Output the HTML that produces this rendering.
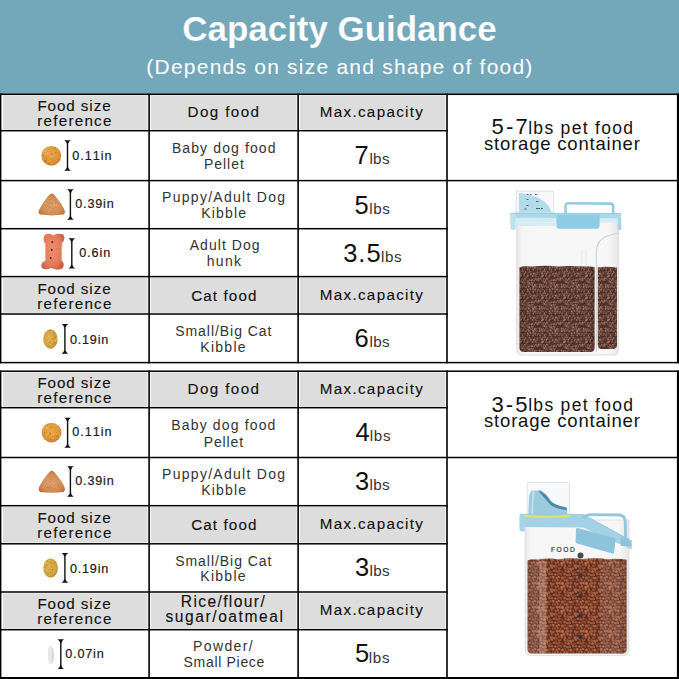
<!DOCTYPE html>
<html><head><meta charset="utf-8"><style>
html,body{margin:0;padding:0;}
body{width:679px;height:679px;overflow:hidden;background:#fff;position:relative;font-family:"Liberation Sans",sans-serif;}
.abs{position:absolute;left:0;top:0;}
.t{position:absolute;white-space:nowrap;font-kerning:none;font-variant-ligatures:none;}
#hdr{position:absolute;left:0;top:0;width:679px;height:94px;background:#73a8bb;}
</style></head><body>
<div id="hdr"></div>
<svg class="abs" width="679" height="679" viewBox="0 0 679 679"><rect x="3.0" y="95.6" width="144.4" height="33.9" fill="#dddddd"/><rect x="150.8" y="95.6" width="145.6" height="33.9" fill="#dddddd"/><rect x="299.8" y="95.6" width="145.6" height="33.9" fill="#dddddd"/><rect x="3.0" y="277.9" width="144.4" height="34.9" fill="#dddddd"/><rect x="150.8" y="277.9" width="145.6" height="34.9" fill="#dddddd"/><rect x="299.8" y="277.9" width="145.6" height="34.9" fill="#dddddd"/><rect x="3.0" y="372.5" width="144.4" height="34.0" fill="#dddddd"/><rect x="150.8" y="372.5" width="145.6" height="34.0" fill="#dddddd"/><rect x="299.8" y="372.5" width="145.6" height="34.0" fill="#dddddd"/><rect x="3.0" y="507.0" width="144.4" height="35.6" fill="#dddddd"/><rect x="150.8" y="507.0" width="145.6" height="35.6" fill="#dddddd"/><rect x="299.8" y="507.0" width="145.6" height="35.6" fill="#dddddd"/><rect x="3.0" y="593.3" width="144.4" height="35.2" fill="#dddddd"/><rect x="150.8" y="593.3" width="145.6" height="35.2" fill="#dddddd"/><rect x="299.8" y="593.3" width="145.6" height="35.2" fill="#dddddd"/><rect x="0" y="93.55" width="679" height="1.5" fill="#000"/><rect x="0" y="129.95" width="447.8" height="1.5" fill="#000"/><rect x="0" y="179.85" width="679" height="1.5" fill="#000"/><rect x="0" y="227.95" width="447.8" height="1.5" fill="#000"/><rect x="0" y="275.85" width="447.8" height="1.5" fill="#000"/><rect x="0" y="313.25" width="447.8" height="1.5" fill="#000"/><rect x="0" y="361.85" width="679" height="1.5" fill="#000"/><rect x="0" y="370.45" width="679" height="1.5" fill="#000"/><rect x="0" y="406.95" width="447.8" height="1.5" fill="#000"/><rect x="0" y="456.75" width="679" height="1.5" fill="#000"/><rect x="0" y="504.95" width="447.8" height="1.5" fill="#000"/><rect x="0" y="543.05" width="447.8" height="1.5" fill="#000"/><rect x="0" y="591.25" width="447.8" height="1.5" fill="#000"/><rect x="0" y="628.95" width="447.8" height="1.5" fill="#000"/><rect x="0" y="677.00" width="679" height="2.0" fill="#000"/><rect x="-0.20" y="93.6" width="1.6" height="269.70000000000005" fill="#000"/><rect x="-0.20" y="370.5" width="1.6" height="308.1" fill="#000"/><rect x="148.30" y="93.6" width="1.6" height="269.70000000000005" fill="#000"/><rect x="148.30" y="370.5" width="1.6" height="308.1" fill="#000"/><rect x="297.30" y="93.6" width="1.6" height="269.70000000000005" fill="#000"/><rect x="297.30" y="370.5" width="1.6" height="308.1" fill="#000"/><rect x="446.20" y="93.6" width="1.6" height="269.70000000000005" fill="#000"/><rect x="446.20" y="370.5" width="1.6" height="308.1" fill="#000"/><rect x="676.90" y="93.6" width="2.2" height="269.70000000000005" fill="#000"/><rect x="676.90" y="370.5" width="2.2" height="308.5" fill="#000"/></svg>
<svg class="abs" width="679" height="679" viewBox="0 0 679 679"><defs>
<radialGradient id="gp" cx="45%" cy="40%" r="62%"><stop offset="0" stop-color="#eaa84a"/><stop offset="0.7" stop-color="#dc963a"/><stop offset="1" stop-color="#c88028"/></radialGradient>
<radialGradient id="gt" cx="50%" cy="55%" r="60%"><stop offset="0" stop-color="#dca070"/><stop offset="0.7" stop-color="#d08a50"/><stop offset="1" stop-color="#b86c34"/></radialGradient>
<radialGradient id="gb" cx="45%" cy="45%" r="60%"><stop offset="0" stop-color="#ee8e70"/><stop offset="0.75" stop-color="#e27a5a"/><stop offset="1" stop-color="#c86444"/></radialGradient>
<linearGradient id="gw" x1="0" x2="1" y1="0" y2="0"><stop offset="0" stop-color="#e4e4e4"/><stop offset="0.5" stop-color="#eaeaea"/><stop offset="1" stop-color="#c8c8c8"/></linearGradient>
<radialGradient id="go" cx="45%" cy="45%" r="60%"><stop offset="0" stop-color="#e0b44c"/><stop offset="0.75" stop-color="#d0a03e"/><stop offset="1" stop-color="#aa8228"/></radialGradient>
<pattern id="sp" width="4" height="4" patternUnits="userSpaceOnUse"><rect width="4" height="4" fill="none"/><circle cx="1" cy="1" r="0.6" fill="#f8dc90"/><circle cx="3" cy="3" r="0.5" fill="#a86a20"/></pattern>
<pattern id="st" width="5" height="5" patternUnits="userSpaceOnUse"><path d="M0 5 L5 0" stroke="#e6b07a" stroke-width="0.6"/><circle cx="2" cy="2" r="0.5" fill="#a0602a"/></pattern>
</defs><path d="M64.20 140.20 L70.80 140.20 Q68.70 141.40 68.20 143.80 L68.20 167.20 Q68.70 169.60 70.80 170.80 L64.20 170.80 Q66.30 169.60 66.80 167.20 L66.80 143.80 Q66.30 141.40 64.20 140.20Z" fill="#111"/><path d="M67.10 189.30 L73.70 189.30 Q71.60 190.50 71.10 192.90 L71.10 216.20 Q71.60 218.60 73.70 219.80 L67.10 219.80 Q69.20 218.60 69.70 216.20 L69.70 192.90 Q69.20 190.50 67.10 189.30Z" fill="#111"/><path d="M68.50 238.20 L75.10 238.20 Q73.00 239.40 72.50 241.80 L72.50 264.90 Q73.00 267.30 75.10 268.50 L68.50 268.50 Q70.60 267.30 71.10 264.90 L71.10 241.80 Q70.60 239.40 68.50 238.20Z" fill="#111"/><path d="M61.60 324.00 L68.20 324.00 Q66.10 325.20 65.60 327.60 L65.60 350.20 Q66.10 352.60 68.20 353.80 L61.60 353.80 Q63.70 352.60 64.20 350.20 L64.20 327.60 Q63.70 325.20 61.60 324.00Z" fill="#111"/><path d="M64.30 417.70 L70.90 417.70 Q68.80 418.90 68.30 421.30 L68.30 444.20 Q68.80 446.60 70.90 447.80 L64.30 447.80 Q66.40 446.60 66.90 444.20 L66.90 421.30 Q66.40 418.90 64.30 417.70Z" fill="#111"/><path d="M67.10 466.30 L73.70 466.30 Q71.60 467.50 71.10 469.90 L71.10 493.20 Q71.60 495.60 73.70 496.80 L67.10 496.80 Q69.20 495.60 69.70 493.20 L69.70 469.90 Q69.20 467.50 67.10 466.30Z" fill="#111"/><path d="M61.60 553.00 L68.20 553.00 Q66.10 554.20 65.60 556.60 L65.60 579.20 Q66.10 581.60 68.20 582.80 L61.60 582.80 Q63.70 581.60 64.20 579.20 L64.20 556.60 Q63.70 554.20 61.60 553.00Z" fill="#111"/><path d="M57.50 639.30 L64.10 639.30 Q62.00 640.50 61.50 642.90 L61.50 665.50 Q62.00 667.90 64.10 669.10 L57.50 669.10 Q59.60 667.90 60.10 665.50 L60.10 642.90 Q59.60 640.50 57.50 639.30Z" fill="#111"/><circle cx="51.3" cy="155.8" r="9.9" fill="url(#gp)"/><circle cx="46.11" cy="156.68" r="0.52" fill="#b8701e"/><circle cx="50.79" cy="157.40" r="0.62" fill="#e8b050"/><circle cx="46.54" cy="150.54" r="0.80" fill="#e8b050"/><circle cx="52.11" cy="156.78" r="0.53" fill="#f0c060"/><circle cx="45.99" cy="148.90" r="0.77" fill="#e8b050"/><circle cx="56.08" cy="159.19" r="0.38" fill="#b8701e"/><circle cx="57.71" cy="151.23" r="0.62" fill="#e8b050"/><circle cx="49.22" cy="161.76" r="0.55" fill="#f0c060"/><circle cx="53.81" cy="151.86" r="0.58" fill="#e8b050"/><circle cx="52.77" cy="156.48" r="0.53" fill="#f0c060"/><circle cx="59.30" cy="159.40" r="0.77" fill="#c77e2a"/><circle cx="52.67" cy="160.03" r="0.45" fill="#b8701e"/><circle cx="46.69" cy="148.36" r="0.57" fill="#e8b050"/><circle cx="49.53" cy="148.89" r="0.48" fill="#e8b050"/><circle cx="55.63" cy="152.45" r="0.75" fill="#c77e2a"/><circle cx="45.31" cy="153.98" r="0.62" fill="#f0c060"/><circle cx="48.13" cy="153.03" r="0.41" fill="#e8b050"/><circle cx="48.86" cy="163.12" r="0.52" fill="#b8701e"/><circle cx="54.88" cy="147.93" r="0.79" fill="#b8701e"/><circle cx="46.77" cy="158.46" r="0.67" fill="#c77e2a"/><circle cx="50.06" cy="151.01" r="0.49" fill="#c77e2a"/><circle cx="53.59" cy="158.42" r="0.38" fill="#c77e2a"/><circle cx="50.63" cy="159.35" r="0.51" fill="#c77e2a"/><circle cx="50.43" cy="157.63" r="0.49" fill="#c77e2a"/><circle cx="45.07" cy="160.91" r="0.73" fill="#c77e2a"/><circle cx="47.35" cy="153.37" r="0.70" fill="#f3c666"/><circle cx="44.00" cy="155.80" r="0.64" fill="#c77e2a"/><circle cx="46.13" cy="149.61" r="0.55" fill="#f3c666"/><circle cx="43.42" cy="152.27" r="0.50" fill="#f0c060"/><circle cx="50.08" cy="162.84" r="0.43" fill="#c77e2a"/><circle cx="56.09" cy="150.22" r="0.61" fill="#c77e2a"/><circle cx="51.89" cy="149.68" r="0.71" fill="#b8701e"/><circle cx="45.04" cy="151.42" r="0.71" fill="#f3c666"/><circle cx="57.36" cy="152.74" r="0.41" fill="#c77e2a"/><circle cx="51.66" cy="162.73" r="0.56" fill="#e8b050"/><circle cx="47.15" cy="157.15" r="0.37" fill="#e8b050"/><circle cx="45.80" cy="160.66" r="0.73" fill="#b8701e"/><circle cx="51.54" cy="149.83" r="0.75" fill="#e8b050"/><circle cx="56.16" cy="149.30" r="0.48" fill="#f3c666"/><circle cx="51.79" cy="154.09" r="0.77" fill="#b8701e"/><circle cx="51.5" cy="432.6" r="9.9" fill="url(#gp)"/><circle cx="46.34" cy="428.12" r="0.75" fill="#f0c060"/><circle cx="54.05" cy="439.78" r="0.37" fill="#c77e2a"/><circle cx="46.52" cy="434.94" r="0.58" fill="#f3c666"/><circle cx="50.96" cy="438.07" r="0.35" fill="#f3c666"/><circle cx="51.81" cy="432.40" r="0.42" fill="#f3c666"/><circle cx="48.56" cy="435.51" r="0.61" fill="#c77e2a"/><circle cx="50.09" cy="425.23" r="0.35" fill="#e8b050"/><circle cx="57.35" cy="433.92" r="0.37" fill="#e8b050"/><circle cx="53.57" cy="438.20" r="0.52" fill="#f3c666"/><circle cx="53.93" cy="431.25" r="0.52" fill="#e8b050"/><circle cx="56.65" cy="428.94" r="0.78" fill="#e8b050"/><circle cx="50.72" cy="427.55" r="0.59" fill="#b8701e"/><circle cx="43.02" cy="431.11" r="0.54" fill="#f3c666"/><circle cx="46.79" cy="431.89" r="0.41" fill="#b8701e"/><circle cx="57.29" cy="435.92" r="0.68" fill="#b8701e"/><circle cx="52.13" cy="438.77" r="0.67" fill="#e8b050"/><circle cx="58.31" cy="436.04" r="0.73" fill="#c77e2a"/><circle cx="53.07" cy="438.52" r="0.37" fill="#b8701e"/><circle cx="51.72" cy="436.86" r="0.40" fill="#f3c666"/><circle cx="48.02" cy="433.87" r="0.72" fill="#f0c060"/><circle cx="50.59" cy="436.56" r="0.77" fill="#c77e2a"/><circle cx="48.88" cy="430.55" r="0.51" fill="#e8b050"/><circle cx="49.82" cy="433.95" r="0.61" fill="#b8701e"/><circle cx="55.17" cy="425.79" r="0.53" fill="#f0c060"/><circle cx="44.82" cy="432.56" r="0.57" fill="#b8701e"/><circle cx="56.49" cy="425.60" r="0.58" fill="#f0c060"/><circle cx="58.46" cy="433.35" r="0.70" fill="#e8b050"/><circle cx="53.39" cy="434.27" r="0.79" fill="#f0c060"/><circle cx="47.68" cy="428.01" r="0.71" fill="#f0c060"/><circle cx="45.01" cy="429.84" r="0.49" fill="#f0c060"/><circle cx="49.88" cy="436.51" r="0.67" fill="#f0c060"/><circle cx="50.87" cy="439.23" r="0.72" fill="#b8701e"/><circle cx="59.24" cy="435.54" r="0.70" fill="#f3c666"/><circle cx="46.39" cy="426.45" r="0.47" fill="#f0c060"/><circle cx="53.91" cy="436.07" r="0.37" fill="#c77e2a"/><circle cx="56.14" cy="429.37" r="0.36" fill="#c77e2a"/><circle cx="50.24" cy="432.32" r="0.44" fill="#b8701e"/><circle cx="56.30" cy="432.40" r="0.41" fill="#c77e2a"/><circle cx="43.96" cy="428.14" r="0.65" fill="#f3c666"/><circle cx="50.28" cy="433.14" r="0.46" fill="#b8701e"/><g transform="translate(0,0)"><path d="M51.8 193.5 C53.6 193.5 57.6 198.4 61.2 203.8 C64.2 209 66.6 212.6 63.4 214.6 Q52 216.2 40.2 214.6 C37 212.6 39.4 209 42.6 203.8 C46 198.4 50 193.5 51.8 193.5 Z" fill="url(#gt)"/><circle cx="56.16" cy="209.85" r="0.42" fill="#b87040"/><circle cx="49.22" cy="207.36" r="0.51" fill="#c88050"/><circle cx="51.94" cy="200.77" r="0.42" fill="#eab890"/><circle cx="54.13" cy="209.49" r="0.36" fill="#b87040"/><circle cx="58.04" cy="208.52" r="0.35" fill="#eab890"/><circle cx="58.53" cy="208.38" r="0.56" fill="#c88050"/><circle cx="52.68" cy="208.42" r="0.48" fill="#b87040"/><circle cx="56.32" cy="209.17" r="0.34" fill="#eab890"/><circle cx="55.87" cy="207.06" r="0.60" fill="#b87040"/><circle cx="51.46" cy="203.53" r="0.58" fill="#b87040"/><circle cx="50.97" cy="210.52" r="0.33" fill="#c88050"/><circle cx="55.44" cy="202.40" r="0.38" fill="#c88050"/><circle cx="54.52" cy="205.09" r="0.69" fill="#eab890"/><circle cx="53.27" cy="201.90" r="0.46" fill="#eab890"/><circle cx="52.52" cy="202.21" r="0.37" fill="#b87040"/><circle cx="49.71" cy="203.81" r="0.64" fill="#c88050"/><circle cx="49.93" cy="207.18" r="0.53" fill="#c88050"/><circle cx="48.59" cy="211.18" r="0.49" fill="#eab890"/><circle cx="56.13" cy="208.61" r="0.50" fill="#c88050"/><circle cx="46.98" cy="210.17" r="0.38" fill="#c88050"/><circle cx="45.59" cy="203.68" r="0.56" fill="#eab890"/><circle cx="49.56" cy="203.03" r="0.33" fill="#e6b088"/><circle cx="57.73" cy="209.03" r="0.35" fill="#e6b088"/><circle cx="55.26" cy="209.62" r="0.44" fill="#eab890"/><circle cx="50.79" cy="209.84" r="0.49" fill="#e6b088"/><circle cx="56.39" cy="205.31" r="0.64" fill="#eab890"/><circle cx="50.06" cy="206.15" r="0.33" fill="#c88050"/><circle cx="47.13" cy="206.36" r="0.31" fill="#c88050"/><circle cx="55.91" cy="205.22" r="0.37" fill="#e6b088"/><circle cx="55.32" cy="204.77" r="0.45" fill="#b87040"/></g><g transform="translate(0,277.3)"><path d="M51.8 193.5 C53.6 193.5 57.6 198.4 61.2 203.8 C64.2 209 66.6 212.6 63.4 214.6 Q52 216.2 40.2 214.6 C37 212.6 39.4 209 42.6 203.8 C46 198.4 50 193.5 51.8 193.5 Z" fill="url(#gt)"/><circle cx="53.34" cy="202.91" r="0.30" fill="#eab890"/><circle cx="47.94" cy="204.81" r="0.64" fill="#eab890"/><circle cx="53.15" cy="206.55" r="0.55" fill="#eab890"/><circle cx="51.64" cy="200.78" r="0.31" fill="#c88050"/><circle cx="55.22" cy="203.11" r="0.32" fill="#c88050"/><circle cx="51.39" cy="202.14" r="0.55" fill="#b87040"/><circle cx="58.40" cy="207.73" r="0.62" fill="#b87040"/><circle cx="48.20" cy="210.24" r="0.49" fill="#b87040"/><circle cx="51.62" cy="207.29" r="0.31" fill="#b87040"/><circle cx="53.87" cy="204.48" r="0.34" fill="#c88050"/><circle cx="54.27" cy="211.70" r="0.38" fill="#c88050"/><circle cx="49.24" cy="206.22" r="0.44" fill="#e6b088"/><circle cx="49.92" cy="209.77" r="0.55" fill="#c88050"/><circle cx="50.04" cy="204.34" r="0.57" fill="#c88050"/><circle cx="46.59" cy="209.62" r="0.59" fill="#b87040"/><circle cx="58.58" cy="204.72" r="0.47" fill="#eab890"/><circle cx="50.91" cy="209.14" r="0.44" fill="#eab890"/><circle cx="51.91" cy="209.79" r="0.67" fill="#c88050"/><circle cx="46.55" cy="209.77" r="0.63" fill="#e6b088"/><circle cx="55.94" cy="208.81" r="0.34" fill="#eab890"/><circle cx="53.41" cy="210.42" r="0.32" fill="#e6b088"/><circle cx="51.00" cy="211.66" r="0.59" fill="#b87040"/><circle cx="46.92" cy="210.23" r="0.67" fill="#b87040"/><circle cx="52.90" cy="201.43" r="0.33" fill="#eab890"/><circle cx="46.24" cy="208.38" r="0.53" fill="#e6b088"/><circle cx="45.59" cy="203.74" r="0.38" fill="#c88050"/><circle cx="51.88" cy="211.79" r="0.43" fill="#eab890"/><circle cx="51.28" cy="208.09" r="0.32" fill="#e6b088"/><circle cx="53.37" cy="211.17" r="0.34" fill="#b87040"/><circle cx="45.17" cy="206.05" r="0.39" fill="#e6b088"/></g><ellipse cx="50.4" cy="339.0" rx="7.2" ry="9.7" fill="url(#go)"/><circle cx="52.44" cy="344.07" r="0.74" fill="#a88028"/><circle cx="49.00" cy="342.12" r="0.70" fill="#a88028"/><circle cx="55.23" cy="340.83" r="0.72" fill="#e8c060"/><circle cx="47.51" cy="341.77" r="0.50" fill="#e8c060"/><circle cx="50.18" cy="330.69" r="0.60" fill="#a88028"/><circle cx="49.29" cy="341.88" r="0.62" fill="#e8c060"/><circle cx="46.80" cy="345.56" r="0.38" fill="#e8c060"/><circle cx="49.40" cy="330.93" r="0.45" fill="#e8c060"/><circle cx="53.99" cy="333.31" r="0.45" fill="#b08a30"/><circle cx="56.61" cy="339.69" r="0.54" fill="#e8c060"/><circle cx="50.17" cy="344.31" r="0.53" fill="#f0cc68"/><circle cx="53.60" cy="335.01" r="0.58" fill="#b08a30"/><circle cx="47.17" cy="337.69" r="0.51" fill="#e8c060"/><circle cx="53.95" cy="334.87" r="0.40" fill="#a88028"/><circle cx="56.28" cy="337.91" r="0.44" fill="#b08a30"/><circle cx="54.18" cy="342.89" r="0.79" fill="#a88028"/><circle cx="56.74" cy="338.50" r="0.80" fill="#e8c060"/><circle cx="48.38" cy="345.84" r="0.48" fill="#b08a30"/><circle cx="48.58" cy="336.27" r="0.72" fill="#e8c060"/><circle cx="56.59" cy="339.38" r="0.36" fill="#e8c060"/><circle cx="50.92" cy="332.52" r="0.37" fill="#e8c060"/><circle cx="48.42" cy="340.02" r="0.57" fill="#e8c060"/><circle cx="51.06" cy="331.12" r="0.49" fill="#e8c060"/><circle cx="52.88" cy="338.97" r="0.68" fill="#a88028"/><circle cx="52.24" cy="342.40" r="0.76" fill="#e8c060"/><circle cx="55.32" cy="337.30" r="0.69" fill="#a88028"/><circle cx="51.15" cy="334.72" r="0.43" fill="#f0cc68"/><circle cx="50.20" cy="330.47" r="0.72" fill="#b08a30"/><circle cx="49.93" cy="342.21" r="0.77" fill="#b08a30"/><circle cx="48.54" cy="341.56" r="0.48" fill="#f0cc68"/><ellipse cx="50.6" cy="568.0" rx="7.3" ry="9.6" fill="url(#go)"/><circle cx="51.29" cy="566.24" r="0.51" fill="#b08a30"/><circle cx="47.37" cy="563.31" r="0.48" fill="#e8c060"/><circle cx="51.73" cy="561.08" r="0.37" fill="#b08a30"/><circle cx="56.90" cy="570.16" r="0.36" fill="#f0cc68"/><circle cx="50.42" cy="563.77" r="0.67" fill="#a88028"/><circle cx="44.80" cy="571.24" r="0.52" fill="#b08a30"/><circle cx="52.70" cy="562.15" r="0.76" fill="#e8c060"/><circle cx="47.92" cy="570.12" r="0.60" fill="#f0cc68"/><circle cx="45.22" cy="563.20" r="0.79" fill="#f0cc68"/><circle cx="54.07" cy="571.81" r="0.40" fill="#f0cc68"/><circle cx="52.51" cy="574.10" r="0.35" fill="#a88028"/><circle cx="50.04" cy="563.96" r="0.60" fill="#e8c060"/><circle cx="53.15" cy="570.82" r="0.41" fill="#f0cc68"/><circle cx="45.93" cy="570.43" r="0.49" fill="#e8c060"/><circle cx="48.88" cy="560.46" r="0.53" fill="#f0cc68"/><circle cx="47.40" cy="560.92" r="0.42" fill="#e8c060"/><circle cx="52.11" cy="576.34" r="0.35" fill="#a88028"/><circle cx="46.89" cy="565.20" r="0.78" fill="#b08a30"/><circle cx="50.20" cy="572.60" r="0.59" fill="#b08a30"/><circle cx="51.61" cy="567.31" r="0.59" fill="#b08a30"/><circle cx="45.48" cy="567.16" r="0.52" fill="#a88028"/><circle cx="47.18" cy="562.29" r="0.37" fill="#f0cc68"/><circle cx="49.28" cy="575.16" r="0.40" fill="#f0cc68"/><circle cx="49.19" cy="569.32" r="0.52" fill="#a88028"/><circle cx="44.65" cy="568.78" r="0.55" fill="#e8c060"/><circle cx="51.92" cy="562.60" r="0.56" fill="#a88028"/><circle cx="52.60" cy="569.75" r="0.67" fill="#a88028"/><circle cx="47.24" cy="560.77" r="0.58" fill="#a88028"/><circle cx="53.94" cy="563.17" r="0.55" fill="#a88028"/><circle cx="49.91" cy="567.57" r="0.59" fill="#e8c060"/><path d="M45.3 243.4 C43 242 42.8 236.5 45.5 234.6 C48 233.2 51 234 53.3 235.4 C55.5 233.6 59.5 233.2 62.5 234.2 C65.2 235.5 65 240.5 61.8 243.4 L61.6 260.5 C64.6 262.5 64.4 267.5 61.5 269 C58.5 270 54 269.6 50.8 267.8 C48 269.8 43.5 270 41.8 267.4 C40.4 264.5 42.5 261.5 45.4 260.7 Z" fill="url(#gb)"/><circle cx="52.30" cy="253.83" r="0.32" fill="#c86040"/><circle cx="53.60" cy="253.65" r="0.39" fill="#f0a080"/><circle cx="57.25" cy="248.22" r="0.59" fill="#c86040"/><circle cx="53.17" cy="240.33" r="0.45" fill="#f0a080"/><circle cx="52.17" cy="259.82" r="0.51" fill="#c86040"/><circle cx="51.45" cy="249.54" r="0.57" fill="#f4a88a"/><circle cx="57.50" cy="253.03" r="0.34" fill="#f0a080"/><circle cx="49.51" cy="249.44" r="0.36" fill="#f0a080"/><circle cx="53.47" cy="261.11" r="0.46" fill="#f4a88a"/><circle cx="51.37" cy="256.31" r="0.54" fill="#f0a080"/><circle cx="52.30" cy="255.38" r="0.34" fill="#c86040"/><circle cx="50.68" cy="252.27" r="0.34" fill="#f0a080"/><circle cx="54.19" cy="241.04" r="0.31" fill="#c86040"/><circle cx="51.59" cy="250.77" r="0.60" fill="#c86040"/><circle cx="50.29" cy="248.33" r="0.45" fill="#c86040"/><circle cx="50.58" cy="245.89" r="0.49" fill="#f4a88a"/><circle cx="52.30" cy="257.09" r="0.60" fill="#f0a080"/><circle cx="57.20" cy="246.79" r="0.57" fill="#f4a88a"/><circle cx="50.98" cy="249.05" r="0.47" fill="#c86040"/><circle cx="49.42" cy="248.40" r="0.33" fill="#f4a88a"/><circle cx="53.22" cy="260.67" r="0.45" fill="#f0a080"/><circle cx="53.89" cy="241.05" r="0.37" fill="#c86040"/><circle cx="51.75" cy="247.25" r="0.44" fill="#f4a88a"/><circle cx="49.72" cy="252.75" r="0.40" fill="#f4a88a"/><circle cx="48.59" cy="251.76" r="0.49" fill="#c86040"/><circle cx="52.2" cy="242.1" r="0.95" fill="#4a1a10"/><circle cx="51.8" cy="249.9" r="0.95" fill="#4a1a10"/><circle cx="50.7" cy="257.9" r="0.95" fill="#4a1a10"/><path d="M50 645.5 C52.5 646 54 651 53.9 656 C53.8 661 52.5 664 50.6 664 C48.8 664 47.8 660 47.9 654.5 C48 649.5 48.6 645.8 50 645.5 Z" fill="url(#gw)"/></svg>
<svg class="abs" width="679" height="679" viewBox="0 0 679 679"><defs><pattern id="f1" width="22" height="22" patternUnits="userSpaceOnUse"><rect width="22" height="22" fill="#472a25"/><ellipse cx="0.89" cy="0.68" rx="1.03" ry="0.82" transform="rotate(141 0.89 0.68)" fill="#9c7566"/><ellipse cx="0.89" cy="22.68" rx="1.03" ry="0.82" transform="rotate(141 0.89 22.68)" fill="#9c7566"/><ellipse cx="22.89" cy="0.68" rx="1.03" ry="0.82" transform="rotate(141 22.89 0.68)" fill="#9c7566"/><ellipse cx="22.89" cy="22.68" rx="1.03" ry="0.82" transform="rotate(141 22.89 22.68)" fill="#9c7566"/><ellipse cx="2.38" cy="2.79" rx="1.26" ry="0.94" transform="rotate(78 2.38 2.79)" fill="#906657"/><ellipse cx="1.14" cy="5.34" rx="1.22" ry="0.77" transform="rotate(71 1.14 5.34)" fill="#86604f"/><ellipse cx="23.14" cy="5.34" rx="1.22" ry="0.77" transform="rotate(71 23.14 5.34)" fill="#86604f"/><ellipse cx="1.67" cy="7.71" rx="1.14" ry="1.01" transform="rotate(29 1.67 7.71)" fill="#86604f"/><ellipse cx="23.67" cy="7.71" rx="1.14" ry="1.01" transform="rotate(29 23.67 7.71)" fill="#86604f"/><ellipse cx="0.54" cy="9.82" rx="1.35" ry="0.82" transform="rotate(163 0.54 9.82)" fill="#5c3a30"/><ellipse cx="22.54" cy="9.82" rx="1.35" ry="0.82" transform="rotate(163 22.54 9.82)" fill="#5c3a30"/><ellipse cx="1.68" cy="11.61" rx="1.28" ry="0.83" transform="rotate(176 1.68 11.61)" fill="#5c3a30"/><ellipse cx="23.68" cy="11.61" rx="1.28" ry="0.83" transform="rotate(176 23.68 11.61)" fill="#5c3a30"/><ellipse cx="1.01" cy="14.69" rx="1.23" ry="0.87" transform="rotate(99 1.01 14.69)" fill="#5c3a30"/><ellipse cx="23.01" cy="14.69" rx="1.23" ry="0.87" transform="rotate(99 23.01 14.69)" fill="#5c3a30"/><ellipse cx="1.75" cy="16.17" rx="1.01" ry="0.85" transform="rotate(117 1.75 16.17)" fill="#86604f"/><ellipse cx="23.75" cy="16.17" rx="1.01" ry="0.85" transform="rotate(117 23.75 16.17)" fill="#86604f"/><ellipse cx="1.25" cy="19.24" rx="1.18" ry="1.04" transform="rotate(178 1.25 19.24)" fill="#9c7566"/><ellipse cx="23.25" cy="19.24" rx="1.18" ry="1.04" transform="rotate(178 23.25 19.24)" fill="#9c7566"/><ellipse cx="2.29" cy="-1.22" rx="1.07" ry="0.92" transform="rotate(45 2.29 -1.22)" fill="#7e5548"/><ellipse cx="2.29" cy="20.78" rx="1.07" ry="0.92" transform="rotate(45 2.29 20.78)" fill="#7e5548"/><ellipse cx="3.87" cy="0.56" rx="1.10" ry="0.74" transform="rotate(59 3.87 0.56)" fill="#5c3a30"/><ellipse cx="3.87" cy="22.56" rx="1.10" ry="0.74" transform="rotate(59 3.87 22.56)" fill="#5c3a30"/><ellipse cx="4.83" cy="3.05" rx="1.19" ry="1.01" transform="rotate(164 4.83 3.05)" fill="#7e5548"/><ellipse cx="2.87" cy="5.04" rx="1.12" ry="0.83" transform="rotate(147 2.87 5.04)" fill="#5c3a30"/><ellipse cx="4.17" cy="8.08" rx="1.18" ry="1.00" transform="rotate(24 4.17 8.08)" fill="#5c3a30"/><ellipse cx="2.92" cy="10.00" rx="1.05" ry="0.79" transform="rotate(140 2.92 10.00)" fill="#9c7566"/><ellipse cx="4.57" cy="11.95" rx="1.21" ry="1.01" transform="rotate(31 4.57 11.95)" fill="#906657"/><ellipse cx="3.36" cy="13.78" rx="1.17" ry="0.95" transform="rotate(11 3.36 13.78)" fill="#5c3a30"/><ellipse cx="3.87" cy="16.15" rx="1.24" ry="0.94" transform="rotate(141 3.87 16.15)" fill="#9c7566"/><ellipse cx="3.52" cy="18.61" rx="1.04" ry="0.80" transform="rotate(34 3.52 18.61)" fill="#906657"/><ellipse cx="4.18" cy="-1.00" rx="1.01" ry="0.64" transform="rotate(101 4.18 -1.00)" fill="#9c7566"/><ellipse cx="4.18" cy="21.00" rx="1.01" ry="0.64" transform="rotate(101 4.18 21.00)" fill="#9c7566"/><ellipse cx="5.44" cy="0.86" rx="1.27" ry="1.11" transform="rotate(59 5.44 0.86)" fill="#9c7566"/><ellipse cx="5.44" cy="22.86" rx="1.27" ry="1.11" transform="rotate(59 5.44 22.86)" fill="#9c7566"/><ellipse cx="6.95" cy="3.54" rx="1.34" ry="1.05" transform="rotate(125 6.95 3.54)" fill="#906657"/><ellipse cx="5.19" cy="5.59" rx="1.16" ry="0.88" transform="rotate(91 5.19 5.59)" fill="#9c7566"/><ellipse cx="6.63" cy="8.15" rx="1.09" ry="0.82" transform="rotate(166 6.63 8.15)" fill="#6b4538"/><ellipse cx="5.78" cy="9.65" rx="1.31" ry="0.87" transform="rotate(25 5.78 9.65)" fill="#9c7566"/><ellipse cx="7.18" cy="11.64" rx="1.04" ry="0.76" transform="rotate(121 7.18 11.64)" fill="#7e5548"/><ellipse cx="5.40" cy="14.61" rx="1.15" ry="0.76" transform="rotate(141 5.40 14.61)" fill="#6b4538"/><ellipse cx="6.18" cy="16.49" rx="1.31" ry="0.85" transform="rotate(116 6.18 16.49)" fill="#86604f"/><ellipse cx="4.95" cy="18.90" rx="1.13" ry="0.76" transform="rotate(174 4.95 18.90)" fill="#906657"/><ellipse cx="6.92" cy="-1.01" rx="1.08" ry="0.95" transform="rotate(159 6.92 -1.01)" fill="#9c7566"/><ellipse cx="6.92" cy="20.99" rx="1.08" ry="0.95" transform="rotate(159 6.92 20.99)" fill="#9c7566"/><ellipse cx="8.15" cy="0.88" rx="1.06" ry="0.85" transform="rotate(29 8.15 0.88)" fill="#906657"/><ellipse cx="8.15" cy="22.88" rx="1.06" ry="0.85" transform="rotate(29 8.15 22.88)" fill="#906657"/><ellipse cx="9.03" cy="3.41" rx="1.15" ry="0.87" transform="rotate(76 9.03 3.41)" fill="#6b4538"/><ellipse cx="7.80" cy="5.45" rx="1.12" ry="0.71" transform="rotate(4 7.80 5.45)" fill="#6b4538"/><ellipse cx="9.21" cy="8.23" rx="1.19" ry="0.87" transform="rotate(69 9.21 8.23)" fill="#7e5548"/><ellipse cx="7.67" cy="10.10" rx="1.18" ry="0.81" transform="rotate(20 7.67 10.10)" fill="#7e5548"/><ellipse cx="8.27" cy="12.34" rx="1.32" ry="0.88" transform="rotate(15 8.27 12.34)" fill="#7e5548"/><ellipse cx="7.88" cy="14.89" rx="1.10" ry="0.95" transform="rotate(49 7.88 14.89)" fill="#906657"/><ellipse cx="9.19" cy="16.24" rx="1.05" ry="0.76" transform="rotate(147 9.19 16.24)" fill="#86604f"/><ellipse cx="7.56" cy="18.90" rx="1.09" ry="0.70" transform="rotate(103 7.56 18.90)" fill="#5c3a30"/><ellipse cx="8.23" cy="-1.15" rx="1.25" ry="0.78" transform="rotate(144 8.23 -1.15)" fill="#7e5548"/><ellipse cx="8.23" cy="20.85" rx="1.25" ry="0.78" transform="rotate(144 8.23 20.85)" fill="#7e5548"/><ellipse cx="9.50" cy="0.64" rx="1.06" ry="0.92" transform="rotate(169 9.50 0.64)" fill="#6b4538"/><ellipse cx="9.50" cy="22.64" rx="1.06" ry="0.92" transform="rotate(169 9.50 22.64)" fill="#6b4538"/><ellipse cx="10.47" cy="3.62" rx="1.22" ry="1.03" transform="rotate(109 10.47 3.62)" fill="#7e5548"/><ellipse cx="9.46" cy="5.20" rx="1.08" ry="0.73" transform="rotate(82 9.46 5.20)" fill="#7e5548"/><ellipse cx="10.87" cy="8.15" rx="1.12" ry="0.86" transform="rotate(112 10.87 8.15)" fill="#6b4538"/><ellipse cx="9.40" cy="9.84" rx="1.02" ry="0.83" transform="rotate(174 9.40 9.84)" fill="#7e5548"/><ellipse cx="11.06" cy="12.56" rx="1.09" ry="0.71" transform="rotate(113 11.06 12.56)" fill="#6b4538"/><ellipse cx="10.28" cy="14.74" rx="1.19" ry="0.78" transform="rotate(90 10.28 14.74)" fill="#9c7566"/><ellipse cx="10.73" cy="16.40" rx="1.06" ry="0.75" transform="rotate(179 10.73 16.40)" fill="#7e5548"/><ellipse cx="9.73" cy="19.16" rx="1.01" ry="0.61" transform="rotate(99 9.73 19.16)" fill="#5c3a30"/><ellipse cx="11.55" cy="-1.52" rx="1.07" ry="0.79" transform="rotate(19 11.55 -1.52)" fill="#9c7566"/><ellipse cx="11.55" cy="20.48" rx="1.07" ry="0.79" transform="rotate(19 11.55 20.48)" fill="#9c7566"/><ellipse cx="11.71" cy="0.78" rx="1.29" ry="0.94" transform="rotate(98 11.71 0.78)" fill="#9c7566"/><ellipse cx="11.71" cy="22.78" rx="1.29" ry="0.94" transform="rotate(98 11.71 22.78)" fill="#9c7566"/><ellipse cx="12.88" cy="3.28" rx="1.31" ry="1.17" transform="rotate(124 12.88 3.28)" fill="#6b4538"/><ellipse cx="12.21" cy="5.22" rx="1.34" ry="0.94" transform="rotate(131 12.21 5.22)" fill="#86604f"/><ellipse cx="12.60" cy="7.60" rx="1.05" ry="0.94" transform="rotate(151 12.60 7.60)" fill="#7e5548"/><ellipse cx="11.94" cy="9.98" rx="1.00" ry="0.79" transform="rotate(78 11.94 9.98)" fill="#6b4538"/><ellipse cx="13.74" cy="12.33" rx="1.02" ry="0.82" transform="rotate(157 13.74 12.33)" fill="#9c7566"/><ellipse cx="12.12" cy="14.44" rx="1.23" ry="0.85" transform="rotate(125 12.12 14.44)" fill="#906657"/><ellipse cx="13.41" cy="15.96" rx="1.02" ry="0.67" transform="rotate(80 13.41 15.96)" fill="#6b4538"/><ellipse cx="12.58" cy="19.04" rx="1.09" ry="0.97" transform="rotate(58 12.58 19.04)" fill="#5c3a30"/><ellipse cx="13.65" cy="-0.74" rx="1.01" ry="0.88" transform="rotate(64 13.65 -0.74)" fill="#906657"/><ellipse cx="13.65" cy="21.26" rx="1.01" ry="0.88" transform="rotate(64 13.65 21.26)" fill="#906657"/><ellipse cx="14.17" cy="0.98" rx="1.00" ry="0.71" transform="rotate(50 14.17 0.98)" fill="#9c7566"/><ellipse cx="14.17" cy="22.98" rx="1.00" ry="0.71" transform="rotate(50 14.17 22.98)" fill="#9c7566"/><ellipse cx="14.92" cy="3.46" rx="1.23" ry="0.83" transform="rotate(16 14.92 3.46)" fill="#7e5548"/><ellipse cx="13.77" cy="4.98" rx="1.29" ry="0.83" transform="rotate(8 13.77 4.98)" fill="#5c3a30"/><ellipse cx="15.05" cy="7.29" rx="1.01" ry="0.70" transform="rotate(15 15.05 7.29)" fill="#906657"/><ellipse cx="14.11" cy="9.36" rx="1.34" ry="1.14" transform="rotate(118 14.11 9.36)" fill="#906657"/><ellipse cx="14.80" cy="11.68" rx="1.25" ry="1.08" transform="rotate(138 14.80 11.68)" fill="#9c7566"/><ellipse cx="13.82" cy="14.14" rx="1.25" ry="0.94" transform="rotate(130 13.82 14.14)" fill="#6b4538"/><ellipse cx="14.83" cy="16.95" rx="1.23" ry="0.75" transform="rotate(161 14.83 16.95)" fill="#86604f"/><ellipse cx="14.44" cy="18.28" rx="1.22" ry="1.00" transform="rotate(25 14.44 18.28)" fill="#5c3a30"/><ellipse cx="15.10" cy="-1.28" rx="1.18" ry="0.89" transform="rotate(149 15.10 -1.28)" fill="#7e5548"/><ellipse cx="15.10" cy="20.72" rx="1.18" ry="0.89" transform="rotate(149 15.10 20.72)" fill="#7e5548"/><ellipse cx="16.34" cy="0.65" rx="1.20" ry="1.05" transform="rotate(172 16.34 0.65)" fill="#86604f"/><ellipse cx="16.34" cy="22.65" rx="1.20" ry="1.05" transform="rotate(172 16.34 22.65)" fill="#86604f"/><ellipse cx="18.02" cy="3.89" rx="1.23" ry="0.77" transform="rotate(24 18.02 3.89)" fill="#7e5548"/><ellipse cx="16.46" cy="5.48" rx="1.13" ry="0.71" transform="rotate(101 16.46 5.48)" fill="#9c7566"/><ellipse cx="17.10" cy="7.22" rx="1.22" ry="0.96" transform="rotate(44 17.10 7.22)" fill="#86604f"/><ellipse cx="16.31" cy="9.62" rx="1.09" ry="0.81" transform="rotate(135 16.31 9.62)" fill="#7e5548"/><ellipse cx="17.99" cy="11.69" rx="1.18" ry="0.89" transform="rotate(95 17.99 11.69)" fill="#86604f"/><ellipse cx="15.93" cy="14.84" rx="1.26" ry="0.94" transform="rotate(152 15.93 14.84)" fill="#7e5548"/><ellipse cx="17.63" cy="16.08" rx="1.08" ry="0.89" transform="rotate(133 17.63 16.08)" fill="#906657"/><ellipse cx="16.55" cy="18.13" rx="1.34" ry="1.00" transform="rotate(14 16.55 18.13)" fill="#9c7566"/><ellipse cx="17.63" cy="-0.53" rx="1.32" ry="0.90" transform="rotate(111 17.63 -0.53)" fill="#7e5548"/><ellipse cx="17.63" cy="21.47" rx="1.32" ry="0.90" transform="rotate(111 17.63 21.47)" fill="#7e5548"/><ellipse cx="19.14" cy="1.34" rx="1.22" ry="0.76" transform="rotate(60 19.14 1.34)" fill="#906657"/><ellipse cx="19.14" cy="23.34" rx="1.22" ry="0.76" transform="rotate(60 19.14 23.34)" fill="#906657"/><ellipse cx="19.51" cy="3.14" rx="1.23" ry="0.99" transform="rotate(102 19.51 3.14)" fill="#5c3a30"/><ellipse cx="18.30" cy="5.83" rx="1.00" ry="0.62" transform="rotate(175 18.30 5.83)" fill="#6b4538"/><ellipse cx="19.84" cy="8.03" rx="1.03" ry="0.69" transform="rotate(52 19.84 8.03)" fill="#9c7566"/><ellipse cx="18.50" cy="9.57" rx="1.18" ry="0.87" transform="rotate(138 18.50 9.57)" fill="#9c7566"/><ellipse cx="-1.83" cy="12.68" rx="1.35" ry="1.03" transform="rotate(176 -1.83 12.68)" fill="#6b4538"/><ellipse cx="20.17" cy="12.68" rx="1.35" ry="1.03" transform="rotate(176 20.17 12.68)" fill="#6b4538"/><ellipse cx="19.12" cy="14.67" rx="1.33" ry="0.80" transform="rotate(14 19.12 14.67)" fill="#9c7566"/><ellipse cx="-1.82" cy="16.79" rx="1.18" ry="1.06" transform="rotate(70 -1.82 16.79)" fill="#6b4538"/><ellipse cx="20.18" cy="16.79" rx="1.18" ry="1.06" transform="rotate(70 20.18 16.79)" fill="#6b4538"/><ellipse cx="18.37" cy="18.72" rx="1.32" ry="1.16" transform="rotate(105 18.37 18.72)" fill="#7e5548"/><ellipse cx="19.63" cy="-1.67" rx="1.05" ry="0.79" transform="rotate(24 19.63 -1.67)" fill="#6b4538"/><ellipse cx="19.63" cy="20.33" rx="1.05" ry="0.79" transform="rotate(24 19.63 20.33)" fill="#6b4538"/><ellipse cx="-1.67" cy="0.84" rx="1.29" ry="0.97" transform="rotate(127 -1.67 0.84)" fill="#7e5548"/><ellipse cx="-1.67" cy="22.84" rx="1.29" ry="0.97" transform="rotate(127 -1.67 22.84)" fill="#7e5548"/><ellipse cx="20.33" cy="0.84" rx="1.29" ry="0.97" transform="rotate(127 20.33 0.84)" fill="#7e5548"/><ellipse cx="20.33" cy="22.84" rx="1.29" ry="0.97" transform="rotate(127 20.33 22.84)" fill="#7e5548"/><ellipse cx="-0.29" cy="3.53" rx="1.08" ry="0.94" transform="rotate(71 -0.29 3.53)" fill="#9c7566"/><ellipse cx="21.71" cy="3.53" rx="1.08" ry="0.94" transform="rotate(71 21.71 3.53)" fill="#9c7566"/><ellipse cx="-0.55" cy="5.44" rx="1.06" ry="0.93" transform="rotate(81 -0.55 5.44)" fill="#86604f"/><ellipse cx="21.45" cy="5.44" rx="1.06" ry="0.93" transform="rotate(81 21.45 5.44)" fill="#86604f"/><ellipse cx="0.52" cy="8.29" rx="1.11" ry="0.71" transform="rotate(68 0.52 8.29)" fill="#6b4538"/><ellipse cx="22.52" cy="8.29" rx="1.11" ry="0.71" transform="rotate(68 22.52 8.29)" fill="#6b4538"/><ellipse cx="-0.55" cy="9.74" rx="1.04" ry="0.73" transform="rotate(135 -0.55 9.74)" fill="#6b4538"/><ellipse cx="21.45" cy="9.74" rx="1.04" ry="0.73" transform="rotate(135 21.45 9.74)" fill="#6b4538"/><ellipse cx="-0.34" cy="11.77" rx="1.29" ry="0.82" transform="rotate(128 -0.34 11.77)" fill="#906657"/><ellipse cx="21.66" cy="11.77" rx="1.29" ry="0.82" transform="rotate(128 21.66 11.77)" fill="#906657"/><ellipse cx="-1.46" cy="13.95" rx="1.32" ry="0.90" transform="rotate(12 -1.46 13.95)" fill="#6b4538"/><ellipse cx="20.54" cy="13.95" rx="1.32" ry="0.90" transform="rotate(12 20.54 13.95)" fill="#6b4538"/><ellipse cx="0.15" cy="16.98" rx="1.14" ry="0.98" transform="rotate(65 0.15 16.98)" fill="#7e5548"/><ellipse cx="22.15" cy="16.98" rx="1.14" ry="0.98" transform="rotate(65 22.15 16.98)" fill="#7e5548"/><ellipse cx="-0.69" cy="18.68" rx="1.15" ry="0.78" transform="rotate(51 -0.69 18.68)" fill="#7e5548"/><ellipse cx="21.31" cy="18.68" rx="1.15" ry="0.78" transform="rotate(51 21.31 18.68)" fill="#7e5548"/><ellipse cx="0.18" cy="-0.74" rx="1.02" ry="0.81" transform="rotate(168 0.18 -0.74)" fill="#86604f"/><ellipse cx="0.18" cy="21.26" rx="1.02" ry="0.81" transform="rotate(168 0.18 21.26)" fill="#86604f"/><ellipse cx="22.18" cy="-0.74" rx="1.02" ry="0.81" transform="rotate(168 22.18 -0.74)" fill="#86604f"/><ellipse cx="22.18" cy="21.26" rx="1.02" ry="0.81" transform="rotate(168 22.18 21.26)" fill="#86604f"/></pattern><pattern id="f2" width="24" height="24" patternUnits="userSpaceOnUse"><rect width="24" height="24" fill="#5a2a1c"/><ellipse cx="1.20" cy="1.22" rx="1.60" ry="1.40" transform="rotate(89 1.20 1.22)" fill="#ac6242"/><ellipse cx="1.20" cy="25.22" rx="1.60" ry="1.40" transform="rotate(89 1.20 25.22)" fill="#ac6242"/><ellipse cx="25.20" cy="1.22" rx="1.60" ry="1.40" transform="rotate(89 25.20 1.22)" fill="#ac6242"/><ellipse cx="25.20" cy="25.22" rx="1.60" ry="1.40" transform="rotate(89 25.20 25.22)" fill="#ac6242"/><ellipse cx="3.11" cy="4.13" rx="1.61" ry="1.32" transform="rotate(123 3.11 4.13)" fill="#944c32"/><ellipse cx="1.35" cy="8.05" rx="1.39" ry="1.17" transform="rotate(152 1.35 8.05)" fill="#a45c40"/><ellipse cx="25.35" cy="8.05" rx="1.39" ry="1.17" transform="rotate(152 25.35 8.05)" fill="#a45c40"/><ellipse cx="3.56" cy="10.87" rx="1.33" ry="1.00" transform="rotate(56 3.56 10.87)" fill="#ac6242"/><ellipse cx="1.66" cy="14.00" rx="1.67" ry="1.12" transform="rotate(48 1.66 14.00)" fill="#ac6242"/><ellipse cx="25.66" cy="14.00" rx="1.67" ry="1.12" transform="rotate(48 25.66 14.00)" fill="#ac6242"/><ellipse cx="3.63" cy="16.56" rx="1.70" ry="1.08" transform="rotate(89 3.63 16.56)" fill="#8a4630"/><ellipse cx="1.76" cy="18.96" rx="1.38" ry="0.92" transform="rotate(164 1.76 18.96)" fill="#b46c4a"/><ellipse cx="25.76" cy="18.96" rx="1.38" ry="0.92" transform="rotate(164 25.76 18.96)" fill="#b46c4a"/><ellipse cx="3.38" cy="-1.56" rx="1.33" ry="1.03" transform="rotate(10 3.38 -1.56)" fill="#b46c4a"/><ellipse cx="3.38" cy="22.44" rx="1.33" ry="1.03" transform="rotate(10 3.38 22.44)" fill="#b46c4a"/><ellipse cx="4.80" cy="1.67" rx="1.31" ry="1.02" transform="rotate(9 4.80 1.67)" fill="#b46c4a"/><ellipse cx="4.80" cy="25.67" rx="1.31" ry="1.02" transform="rotate(9 4.80 25.67)" fill="#b46c4a"/><ellipse cx="5.84" cy="3.96" rx="1.33" ry="0.95" transform="rotate(159 5.84 3.96)" fill="#a45c40"/><ellipse cx="5.01" cy="7.05" rx="1.63" ry="1.47" transform="rotate(59 5.01 7.05)" fill="#ac6242"/><ellipse cx="6.07" cy="10.31" rx="1.38" ry="1.22" transform="rotate(84 6.07 10.31)" fill="#a45c40"/><ellipse cx="4.26" cy="13.79" rx="1.44" ry="1.18" transform="rotate(177 4.26 13.79)" fill="#944c32"/><ellipse cx="6.67" cy="16.21" rx="1.50" ry="0.95" transform="rotate(50 6.67 16.21)" fill="#a0573a"/><ellipse cx="4.69" cy="19.26" rx="1.46" ry="1.29" transform="rotate(101 4.69 19.26)" fill="#a0573a"/><ellipse cx="6.17" cy="-1.63" rx="1.64" ry="1.17" transform="rotate(148 6.17 -1.63)" fill="#944c32"/><ellipse cx="6.17" cy="22.37" rx="1.64" ry="1.17" transform="rotate(148 6.17 22.37)" fill="#944c32"/><ellipse cx="7.10" cy="1.09" rx="1.49" ry="0.92" transform="rotate(35 7.10 1.09)" fill="#b46c4a"/><ellipse cx="7.10" cy="25.09" rx="1.49" ry="0.92" transform="rotate(35 7.10 25.09)" fill="#b46c4a"/><ellipse cx="8.75" cy="4.99" rx="1.54" ry="1.13" transform="rotate(66 8.75 4.99)" fill="#944c32"/><ellipse cx="7.50" cy="7.16" rx="1.70" ry="1.04" transform="rotate(45 7.50 7.16)" fill="#b46c4a"/><ellipse cx="9.59" cy="11.10" rx="1.58" ry="1.14" transform="rotate(6 9.59 11.10)" fill="#b46c4a"/><ellipse cx="7.44" cy="13.07" rx="1.33" ry="1.16" transform="rotate(35 7.44 13.07)" fill="#944c32"/><ellipse cx="8.73" cy="16.01" rx="1.33" ry="1.04" transform="rotate(49 8.73 16.01)" fill="#944c32"/><ellipse cx="7.31" cy="19.01" rx="1.73" ry="1.36" transform="rotate(134 7.31 19.01)" fill="#944c32"/><ellipse cx="8.79" cy="-1.79" rx="1.61" ry="1.41" transform="rotate(1 8.79 -1.79)" fill="#944c32"/><ellipse cx="8.79" cy="22.21" rx="1.61" ry="1.41" transform="rotate(1 8.79 22.21)" fill="#944c32"/><ellipse cx="10.58" cy="1.96" rx="1.64" ry="1.43" transform="rotate(170 10.58 1.96)" fill="#a45c40"/><ellipse cx="10.58" cy="25.96" rx="1.64" ry="1.43" transform="rotate(170 10.58 25.96)" fill="#a45c40"/><ellipse cx="12.40" cy="4.40" rx="1.33" ry="1.13" transform="rotate(86 12.40 4.40)" fill="#a0573a"/><ellipse cx="10.40" cy="7.53" rx="1.73" ry="1.53" transform="rotate(142 10.40 7.53)" fill="#b46c4a"/><ellipse cx="11.95" cy="10.31" rx="1.71" ry="1.44" transform="rotate(167 11.95 10.31)" fill="#ac6242"/><ellipse cx="9.97" cy="13.23" rx="1.38" ry="1.16" transform="rotate(55 9.97 13.23)" fill="#a45c40"/><ellipse cx="12.66" cy="16.05" rx="1.61" ry="1.04" transform="rotate(59 12.66 16.05)" fill="#ac6242"/><ellipse cx="10.50" cy="19.66" rx="1.44" ry="1.02" transform="rotate(14 10.50 19.66)" fill="#8a4630"/><ellipse cx="12.54" cy="-1.84" rx="1.39" ry="1.15" transform="rotate(73 12.54 -1.84)" fill="#ac6242"/><ellipse cx="12.54" cy="22.16" rx="1.39" ry="1.15" transform="rotate(73 12.54 22.16)" fill="#ac6242"/><ellipse cx="13.23" cy="1.20" rx="1.59" ry="1.19" transform="rotate(59 13.23 1.20)" fill="#8a4630"/><ellipse cx="13.23" cy="25.20" rx="1.59" ry="1.19" transform="rotate(59 13.23 25.20)" fill="#8a4630"/><ellipse cx="14.98" cy="4.44" rx="1.74" ry="1.51" transform="rotate(48 14.98 4.44)" fill="#a0573a"/><ellipse cx="14.04" cy="7.92" rx="1.34" ry="0.84" transform="rotate(178 14.04 7.92)" fill="#b46c4a"/><ellipse cx="15.55" cy="9.93" rx="1.74" ry="1.13" transform="rotate(75 15.55 9.93)" fill="#ac6242"/><ellipse cx="12.94" cy="13.75" rx="1.58" ry="1.27" transform="rotate(97 12.94 13.75)" fill="#a45c40"/><ellipse cx="15.57" cy="16.47" rx="1.65" ry="1.36" transform="rotate(53 15.57 16.47)" fill="#944c32"/><ellipse cx="13.60" cy="18.90" rx="1.56" ry="1.11" transform="rotate(47 13.60 18.90)" fill="#a45c40"/><ellipse cx="14.97" cy="-0.99" rx="1.50" ry="0.98" transform="rotate(28 14.97 -0.99)" fill="#ac6242"/><ellipse cx="14.97" cy="23.01" rx="1.50" ry="0.98" transform="rotate(28 14.97 23.01)" fill="#ac6242"/><ellipse cx="16.89" cy="1.93" rx="1.70" ry="1.31" transform="rotate(12 16.89 1.93)" fill="#944c32"/><ellipse cx="16.89" cy="25.93" rx="1.70" ry="1.31" transform="rotate(12 16.89 25.93)" fill="#944c32"/><ellipse cx="18.67" cy="4.20" rx="1.41" ry="0.95" transform="rotate(42 18.67 4.20)" fill="#8a4630"/><ellipse cx="16.03" cy="7.09" rx="1.66" ry="1.32" transform="rotate(18 16.03 7.09)" fill="#a0573a"/><ellipse cx="18.13" cy="10.72" rx="1.51" ry="1.28" transform="rotate(165 18.13 10.72)" fill="#b46c4a"/><ellipse cx="17.03" cy="13.77" rx="1.32" ry="0.91" transform="rotate(9 17.03 13.77)" fill="#a0573a"/><ellipse cx="18.28" cy="16.82" rx="1.57" ry="1.33" transform="rotate(167 18.28 16.82)" fill="#ac6242"/><ellipse cx="16.45" cy="19.56" rx="1.47" ry="1.26" transform="rotate(109 16.45 19.56)" fill="#b46c4a"/><ellipse cx="17.55" cy="-1.16" rx="1.65" ry="1.32" transform="rotate(19 17.55 -1.16)" fill="#a0573a"/><ellipse cx="17.55" cy="22.84" rx="1.65" ry="1.32" transform="rotate(19 17.55 22.84)" fill="#a0573a"/><ellipse cx="19.18" cy="2.00" rx="1.57" ry="1.23" transform="rotate(7 19.18 2.00)" fill="#ac6242"/><ellipse cx="21.27" cy="4.26" rx="1.45" ry="0.89" transform="rotate(7 21.27 4.26)" fill="#944c32"/><ellipse cx="19.05" cy="7.20" rx="1.63" ry="1.42" transform="rotate(147 19.05 7.20)" fill="#a0573a"/><ellipse cx="21.26" cy="10.74" rx="1.48" ry="1.06" transform="rotate(56 21.26 10.74)" fill="#8a4630"/><ellipse cx="19.03" cy="12.98" rx="1.39" ry="1.17" transform="rotate(87 19.03 12.98)" fill="#8a4630"/><ellipse cx="21.13" cy="16.60" rx="1.48" ry="1.24" transform="rotate(99 21.13 16.60)" fill="#a45c40"/><ellipse cx="19.37" cy="19.17" rx="1.59" ry="1.00" transform="rotate(72 19.37 19.17)" fill="#ac6242"/><ellipse cx="21.22" cy="21.91" rx="1.42" ry="1.27" transform="rotate(55 21.22 21.91)" fill="#a45c40"/><ellipse cx="-1.74" cy="1.45" rx="1.73" ry="1.20" transform="rotate(159 -1.74 1.45)" fill="#8a4630"/><ellipse cx="-1.74" cy="25.45" rx="1.73" ry="1.20" transform="rotate(159 -1.74 25.45)" fill="#8a4630"/><ellipse cx="22.26" cy="1.45" rx="1.73" ry="1.20" transform="rotate(159 22.26 1.45)" fill="#8a4630"/><ellipse cx="22.26" cy="25.45" rx="1.73" ry="1.20" transform="rotate(159 22.26 25.45)" fill="#8a4630"/><ellipse cx="0.65" cy="4.67" rx="1.49" ry="0.90" transform="rotate(116 0.65 4.67)" fill="#944c32"/><ellipse cx="24.65" cy="4.67" rx="1.49" ry="0.90" transform="rotate(116 24.65 4.67)" fill="#944c32"/><ellipse cx="-1.04" cy="7.47" rx="1.48" ry="1.06" transform="rotate(78 -1.04 7.47)" fill="#a0573a"/><ellipse cx="22.96" cy="7.47" rx="1.48" ry="1.06" transform="rotate(78 22.96 7.47)" fill="#a0573a"/><ellipse cx="-0.22" cy="10.20" rx="1.37" ry="0.87" transform="rotate(73 -0.22 10.20)" fill="#a0573a"/><ellipse cx="23.78" cy="10.20" rx="1.37" ry="0.87" transform="rotate(73 23.78 10.20)" fill="#a0573a"/><ellipse cx="-0.95" cy="13.75" rx="1.70" ry="1.25" transform="rotate(23 -0.95 13.75)" fill="#ac6242"/><ellipse cx="23.05" cy="13.75" rx="1.70" ry="1.25" transform="rotate(23 23.05 13.75)" fill="#ac6242"/><ellipse cx="-0.13" cy="15.93" rx="1.32" ry="0.85" transform="rotate(16 -0.13 15.93)" fill="#b46c4a"/><ellipse cx="23.87" cy="15.93" rx="1.32" ry="0.85" transform="rotate(16 23.87 15.93)" fill="#b46c4a"/><ellipse cx="-1.50" cy="19.71" rx="1.58" ry="1.12" transform="rotate(31 -1.50 19.71)" fill="#8a4630"/><ellipse cx="22.50" cy="19.71" rx="1.58" ry="1.12" transform="rotate(31 22.50 19.71)" fill="#8a4630"/><ellipse cx="0.00" cy="-1.79" rx="1.46" ry="0.94" transform="rotate(167 0.00 -1.79)" fill="#ac6242"/><ellipse cx="0.00" cy="22.21" rx="1.46" ry="0.94" transform="rotate(167 0.00 22.21)" fill="#ac6242"/><ellipse cx="24.00" cy="-1.79" rx="1.46" ry="0.94" transform="rotate(167 24.00 -1.79)" fill="#ac6242"/><ellipse cx="24.00" cy="22.21" rx="1.46" ry="0.94" transform="rotate(167 24.00 22.21)" fill="#ac6242"/></pattern><linearGradient id="body1" x1="0" x2="1" y1="0" y2="0">
<stop offset="0" stop-color="#e9e9e9"/><stop offset="0.06" stop-color="#f6f6f6"/><stop offset="0.9" stop-color="#f7f7f7"/><stop offset="1" stop-color="#e6e6e6"/></linearGradient>
<linearGradient id="fshade" x1="0" x2="1" y1="0" y2="0">
<stop offset="0" stop-color="#000" stop-opacity="0.18"/><stop offset="0.1" stop-color="#000" stop-opacity="0"/><stop offset="0.9" stop-color="#000" stop-opacity="0"/><stop offset="1" stop-color="#000" stop-opacity="0.15"/></linearGradient>
</defs>
<g>
<!-- body -->
<path d="M516.8 219 L618.4 219 L618.4 350 Q618.4 355 613.4 355 L521.8 355 Q516.8 355 516.8 350 Z" fill="url(#body1)" stroke="#d6d6d6" stroke-width="0.8"/>
<!-- food main -->
<path d="M519.5 267.2 Q525 265.6 532 266.6 Q545 265.2 558 266.4 Q572 265.4 585 266.6 Q590 266 594.6 267 L594.6 347.5 Q594.6 352 590 352 L524 352 Q519.5 352 519.5 347.5 Z" fill="url(#f1)"/>
<path d="M519.5 267.2 Q525 265.6 532 266.6 Q545 265.2 558 266.4 Q572 265.4 585 266.6 Q590 266 594.6 267 L594.6 347.5 Q594.6 352 590 352 L524 352 Q519.5 352 519.5 347.5 Z" fill="url(#fshade)"/>
<!-- food right -->
<path d="M597.8 267.2 Q606 266 617 267.4 L617 345 Q617 349 613 349 L601.5 349 Q597.8 349 597.8 345 Z" fill="url(#f1)"/>
<!-- divider / spout -->
<path d="M596.3 352 L596.3 252 Q596.8 240 606 236.5 L618 233" fill="none" stroke="#cfcfcf" stroke-width="1.1"/>
<path d="M581.8 250 L581.8 266 M586 250 L586 266" stroke="#e2e2e2" stroke-width="0.8"/>
<!-- measuring cup -->
<path d="M516.3 191 L553.6 191 L553.6 213 L516.3 213 Z" fill="#f7f9fa" stroke="#d4d8da" stroke-width="0.8"/>
<path d="M519 193 Q536 194.5 544 201.5 Q550 206 551.5 212.5 L519 212.5 Z" fill="#b3dbea"/><path d="M534.2 192 L534.2 212.5" stroke="#c8dfe8" stroke-width="0.6"/>
<path d="M527.5 193.5 L527.5 212" stroke="#c9dde6" stroke-width="0.5"/>
<path d="M527 194.5 h1.5 M530 194.5 h1.5 M535 194.5 h2 M526.5 199.5 h2 M536 201.5 h2.5 M526.5 205.5 h2 M524.5 209 h2 M536 208.5 h4 M541 208.5 h2" stroke="#2c5a6c" stroke-width="0.9"/>
<!-- handle -->
<path d="M565.6 215 L565.6 206 Q565.6 203.3 568.5 203.3 L610.5 203.6 Q613.2 203.6 613.2 206.5 L613.2 215" fill="none" stroke="#96cbe2" stroke-width="2.6"/>
<!-- lid band -->
<path d="M510.5 213.2 L621 213.6 L621 222.6 L510.5 222.2 Z" fill="#d4ecf5"/><path d="M510.5 213.2 L621 213.6 L621 218.2 L510.5 217.8 Z" fill="#acd8eb"/>
<path d="M510.5 213.2 L621 213.6" stroke="#8fc2d8" stroke-width="0.8"/>
<path d="M510.2 214 L515.5 214 L515.8 229.5 Q513 230.5 510.4 229 Z" fill="#bfe1ee"/>
<path d="M617.5 218 L621.3 218 L621.3 230 L617.8 230 Z" fill="#a9d5e8"/>
<!-- latch -->
<path d="M556.4 214.8 L599.6 214.8 L599.6 225.5 Q599.6 228.8 596.3 228.8 L559.7 228.8 Q556.4 228.8 556.4 225.5 Z" fill="#8ecbe4"/>
<path d="M516.8 222.6 L556.4 222.6 L556.4 226 L516.8 226 Z" fill="#cfe9f3" opacity="0.8"/>
</g>

<g>
<!-- body -->
<path d="M525.2 520 L629 520 L629 650 Q629 655.6 623.4 655.6 L530.8 655.6 Q525.2 655.6 525.2 650 Z" fill="url(#body1)" stroke="#d9d9d9" stroke-width="0.8"/>
<!-- food -->
<path d="M527.6 560.5 Q532 558.6 538 559.6 Q548 557.8 558 559.2 Q570 557.4 582 559 Q596 557.6 608 559.2 Q618 558.2 626.6 559.8 L626.6 649 Q626.6 653.6 622 653.6 L532.2 653.6 Q527.6 653.6 527.6 649 Z" fill="url(#f2)"/>
<path d="M527.6 560.5 Q532 558.6 538 559.6 Q548 557.8 558 559.2 Q570 557.4 582 559 Q596 557.6 608 559.2 Q618 558.2 626.6 559.8 L626.6 649 Q626.6 653.6 622 653.6 L532.2 653.6 Q527.6 653.6 527.6 649 Z" fill="url(#fshade)"/>
<rect x="527.6" y="561" width="11" height="92" fill="#d8c8c8" opacity="0.18"/><rect x="538.8" y="561" width="7.5" height="92" fill="#f0dcd8" opacity="0.3"/><rect x="600" y="561" width="26.6" height="92" fill="#d0c0c0" opacity="0.15"/>
<!-- window dots -->
<circle cx="580.4" cy="575.8" r="2.3" fill="#38323a"/>
<circle cx="580.4" cy="596.2" r="2.3" fill="#38323a"/>
<circle cx="580.4" cy="615.8" r="2.3" fill="#38323a"/>
<circle cx="580.4" cy="636.8" r="2.3" fill="#38323a"/>
<!-- FOOD label -->
<text x="551.0" y="551.6" font-family="Liberation Sans" font-size="6.6" letter-spacing="1.55" fill="#2a2a2a" stroke="#2a2a2a" stroke-width="0.15">FOOD</text>
<circle cx="580.5" cy="555.4" r="3.0" fill="#4a4a4a"/>
<!-- cup -->
<path d="M527.2 483.5 Q527.2 482.5 529 482.5 L567.6 482.5 Q569.4 482.5 569.4 483.5 L569.4 517 L527.2 517 Z" fill="#f8f9fa" stroke="#d9dcde" stroke-width="0.8"/>
<!-- scoop -->
<path d="M528.3 514.3 L529 498 Q529.6 491 532 490.4 L540.7 490.4 Q546 493 550 500 Q553 504 558 505.5 L567 507.5 L567.4 514.3 Z" fill="#9ccbe0"/>
<path d="M539.5 490.6 Q546.5 494 550.5 501 Q554.5 505 566.5 507.6 L566.8 510.2 Q556 508.8 550.6 505 Q545 498.5 538.8 491.5 Z" fill="#4c8aa8"/>
<path d="M533.5 491 L532 514" stroke="#c4e2ef" stroke-width="1.6"/>
<!-- lid -->
<path d="M519.8 514.4 L583 514.4 L631.8 541 L631.8 549.5 L583 527.4 L519.8 527 Z" fill="#a3d1e5"/>
<path d="M519.8 514.4 L583 514.4 L631.8 541" fill="none" stroke="#8cc1d8" stroke-width="0.8"/>
<path d="M519.4 516 L524.5 516 L524.8 531 Q522 532 519.6 530.5 Z" fill="#a9d4e7"/>
<!-- yellow ring -->
<path d="M524 515.6 Q547 518.6 570 515.6" fill="none" stroke="#d3e36c" stroke-width="2.2"/>
<!-- handle -->
<path d="M583.4 518.5 Q585 514.8 590.5 514.6 L619.5 515 Q625.2 515.4 625.3 522.5 L625.6 539.5" fill="none" stroke="#93c6dd" stroke-width="2.8"/>
<path d="M620.5 537 L628 538 L632 546 L621 546 Z" fill="#8fc3da"/>
<!-- flap -->
<path d="M577.5 528 L614 537.8 Q615.6 538.3 615.5 540 L614.2 552.4 Q614 554 612.4 553.6 L577 543.6 Q575.5 543.2 575.6 541.6 L576 529.4 Q576.2 527.7 577.5 528 Z" fill="#8ec3dc"/>
</g>
</svg>
<div class="t" style="left:182.30px;top:10.80px;font-size:35px;line-height:35px;letter-spacing:-0.042px;color:#fff;font-weight:bold;-webkit-text-stroke:0.2px #73a8bb;">Capacity Guidance</div>
<div class="t" style="left:146.34px;top:55.60px;font-size:21px;line-height:21px;letter-spacing:1.224px;color:#fff;">(Depends on size and shape of food)</div>
<div class="t" style="left:37.38px;top:98.00px;font-size:15.2px;line-height:15.2px;letter-spacing:0.926px;color:#111;-webkit-text-stroke:0.12px #111">Food size</div>
<div class="t" style="left:37.21px;top:112.80px;font-size:15.2px;line-height:15.2px;letter-spacing:1.257px;color:#111;-webkit-text-stroke:0.12px #111">reference</div>
<div class="t" style="left:319.78px;top:103.70px;font-size:15.2px;line-height:15.2px;letter-spacing:1.320px;color:#111;-webkit-text-stroke:0.12px #111">Max.capacity</div>
<div class="t" style="left:187.58px;top:104.30px;font-size:15.2px;line-height:15.2px;letter-spacing:1.385px;color:#111;-webkit-text-stroke:0.12px #111">Dog food</div>
<div class="t" style="left:171.88px;top:140.80px;font-size:14.0px;line-height:14.0px;letter-spacing:1.111px;color:#333;">Baby dog food</div>
<div class="t" style="left:203.88px;top:156.90px;font-size:14.0px;line-height:14.0px;letter-spacing:0.978px;color:#333;">Pellet</div>
<div class="t" style="left:354.62px;top:142.95px;font-size:25.5px;line-height:25.5px;letter-spacing:0.000px;color:#111;">7</div>
<div class="t" style="left:369.41px;top:151.40px;font-size:15.2px;line-height:15.2px;letter-spacing:0.332px;color:#333;">lbs</div>
<div class="t" style="left:72.20px;top:149.50px;font-size:12.6px;line-height:12.6px;letter-spacing:1.007px;color:#1a1a1a;-webkit-text-stroke:0.2px #1a1a1a">0.11in</div>
<div class="t" style="left:162.08px;top:190.00px;font-size:14.0px;line-height:14.0px;letter-spacing:1.283px;color:#333;">Puppy/Adult Dog</div>
<div class="t" style="left:201.18px;top:206.00px;font-size:14.0px;line-height:14.0px;letter-spacing:1.186px;color:#333;">Kibble</div>
<div class="t" style="left:354.58px;top:192.85px;font-size:25.5px;line-height:25.5px;letter-spacing:0.000px;color:#111;">5</div>
<div class="t" style="left:369.21px;top:201.30px;font-size:15.2px;line-height:15.2px;letter-spacing:0.632px;color:#333;">lbs</div>
<div class="t" style="left:75.30px;top:198.20px;font-size:12.6px;line-height:12.6px;letter-spacing:0.818px;color:#1a1a1a;-webkit-text-stroke:0.2px #1a1a1a">0.39in</div>
<div class="t" style="left:189.70px;top:238.20px;font-size:14.0px;line-height:14.0px;letter-spacing:1.044px;color:#333;">Adult Dog</div>
<div class="t" style="left:206.82px;top:253.60px;font-size:14.0px;line-height:14.0px;letter-spacing:1.267px;color:#333;">hunk</div>
<div class="t" style="left:343.18px;top:240.95px;font-size:25.5px;line-height:25.5px;letter-spacing:1.000px;color:#111;">3.5</div>
<div class="t" style="left:381.11px;top:249.40px;font-size:15.2px;line-height:15.2px;letter-spacing:0.482px;color:#333;">lbs</div>
<div class="t" style="left:79.20px;top:247.30px;font-size:12.6px;line-height:12.6px;letter-spacing:0.911px;color:#1a1a1a;-webkit-text-stroke:0.2px #1a1a1a">0.6in</div>
<div class="t" style="left:37.38px;top:280.80px;font-size:15.2px;line-height:15.2px;letter-spacing:0.926px;color:#111;-webkit-text-stroke:0.12px #111">Food size</div>
<div class="t" style="left:37.21px;top:295.60px;font-size:15.2px;line-height:15.2px;letter-spacing:1.257px;color:#111;-webkit-text-stroke:0.12px #111">reference</div>
<div class="t" style="left:319.78px;top:286.50px;font-size:15.2px;line-height:15.2px;letter-spacing:1.320px;color:#111;-webkit-text-stroke:0.12px #111">Max.capacity</div>
<div class="t" style="left:191.24px;top:287.90px;font-size:15.2px;line-height:15.2px;letter-spacing:1.113px;color:#111;-webkit-text-stroke:0.12px #111">Cat food</div>
<div class="t" style="left:175.17px;top:323.80px;font-size:14.0px;line-height:14.0px;letter-spacing:0.961px;color:#333;">Small/Big Cat</div>
<div class="t" style="left:200.28px;top:339.50px;font-size:14.0px;line-height:14.0px;letter-spacing:1.286px;color:#333;">Kibble</div>
<div class="t" style="left:354.62px;top:325.85px;font-size:25.5px;line-height:25.5px;letter-spacing:0.000px;color:#111;">6</div>
<div class="t" style="left:369.51px;top:334.30px;font-size:15.2px;line-height:15.2px;letter-spacing:0.282px;color:#333;">lbs</div>
<div class="t" style="left:69.90px;top:333.60px;font-size:12.6px;line-height:12.6px;letter-spacing:0.818px;color:#1a1a1a;-webkit-text-stroke:0.2px #1a1a1a">0.19in</div>
<div class="t" style="left:491.42px;top:116.40px;font-size:22px;line-height:22px;letter-spacing:2.295px;color:#111;">5-7</div>
<div class="t" style="left:528.16px;top:120.15px;font-size:17.5px;line-height:17.5px;letter-spacing:1.309px;color:#111;">lbs pet food</div>
<div class="t" style="left:484.05px;top:135.15px;font-size:18.5px;line-height:18.5px;letter-spacing:0.801px;color:#111;">storage container</div>
<div class="t" style="left:491.42px;top:393.70px;font-size:22px;line-height:22px;letter-spacing:2.185px;color:#111;">3-5</div>
<div class="t" style="left:528.16px;top:397.45px;font-size:17.5px;line-height:17.5px;letter-spacing:1.309px;color:#111;">lbs pet food</div>
<div class="t" style="left:484.05px;top:412.45px;font-size:18.5px;line-height:18.5px;letter-spacing:0.801px;color:#111;">storage container</div>
<div class="t" style="left:37.38px;top:374.95px;font-size:15.2px;line-height:15.2px;letter-spacing:0.926px;color:#111;-webkit-text-stroke:0.12px #111">Food size</div>
<div class="t" style="left:37.21px;top:389.75px;font-size:15.2px;line-height:15.2px;letter-spacing:1.257px;color:#111;-webkit-text-stroke:0.12px #111">reference</div>
<div class="t" style="left:319.78px;top:380.65px;font-size:15.2px;line-height:15.2px;letter-spacing:1.320px;color:#111;-webkit-text-stroke:0.12px #111">Max.capacity</div>
<div class="t" style="left:187.58px;top:380.70px;font-size:15.2px;line-height:15.2px;letter-spacing:1.385px;color:#111;-webkit-text-stroke:0.12px #111">Dog food</div>
<div class="t" style="left:171.28px;top:418.30px;font-size:14.0px;line-height:14.0px;letter-spacing:1.152px;color:#333;">Baby dog food</div>
<div class="t" style="left:203.68px;top:434.70px;font-size:14.0px;line-height:14.0px;letter-spacing:0.898px;color:#333;">Pellet</div>
<div class="t" style="left:355.39px;top:419.85px;font-size:25.5px;line-height:25.5px;letter-spacing:0.000px;color:#111;">4</div>
<div class="t" style="left:369.81px;top:428.30px;font-size:15.2px;line-height:15.2px;letter-spacing:0.632px;color:#333;">lbs</div>
<div class="t" style="left:72.20px;top:426.00px;font-size:12.6px;line-height:12.6px;letter-spacing:1.007px;color:#1a1a1a;-webkit-text-stroke:0.2px #1a1a1a">0.11in</div>
<div class="t" style="left:162.08px;top:466.90px;font-size:14.0px;line-height:14.0px;letter-spacing:1.283px;color:#333;">Puppy/Adult Dog</div>
<div class="t" style="left:201.18px;top:482.90px;font-size:14.0px;line-height:14.0px;letter-spacing:1.186px;color:#333;">Kibble</div>
<div class="t" style="left:354.88px;top:468.85px;font-size:25.5px;line-height:25.5px;letter-spacing:0.000px;color:#111;">3</div>
<div class="t" style="left:369.51px;top:477.30px;font-size:15.2px;line-height:15.2px;letter-spacing:0.282px;color:#333;">lbs</div>
<div class="t" style="left:75.30px;top:475.20px;font-size:12.6px;line-height:12.6px;letter-spacing:0.818px;color:#1a1a1a;-webkit-text-stroke:0.2px #1a1a1a">0.39in</div>
<div class="t" style="left:37.38px;top:510.25px;font-size:15.2px;line-height:15.2px;letter-spacing:0.926px;color:#111;-webkit-text-stroke:0.12px #111">Food size</div>
<div class="t" style="left:37.21px;top:525.05px;font-size:15.2px;line-height:15.2px;letter-spacing:1.257px;color:#111;-webkit-text-stroke:0.12px #111">reference</div>
<div class="t" style="left:319.78px;top:515.95px;font-size:15.2px;line-height:15.2px;letter-spacing:1.320px;color:#111;-webkit-text-stroke:0.12px #111">Max.capacity</div>
<div class="t" style="left:191.24px;top:517.20px;font-size:15.2px;line-height:15.2px;letter-spacing:1.113px;color:#111;-webkit-text-stroke:0.12px #111">Cat food</div>
<div class="t" style="left:175.17px;top:553.60px;font-size:14.0px;line-height:14.0px;letter-spacing:0.961px;color:#333;">Small/Big Cat</div>
<div class="t" style="left:200.28px;top:569.30px;font-size:14.0px;line-height:14.0px;letter-spacing:1.286px;color:#333;">Kibble</div>
<div class="t" style="left:354.88px;top:554.85px;font-size:25.5px;line-height:25.5px;letter-spacing:0.000px;color:#111;">3</div>
<div class="t" style="left:369.51px;top:563.30px;font-size:15.2px;line-height:15.2px;letter-spacing:0.282px;color:#333;">lbs</div>
<div class="t" style="left:69.90px;top:562.50px;font-size:12.6px;line-height:12.6px;letter-spacing:0.818px;color:#1a1a1a;-webkit-text-stroke:0.2px #1a1a1a">0.19in</div>
<div class="t" style="left:37.38px;top:596.35px;font-size:15.2px;line-height:15.2px;letter-spacing:0.926px;color:#111;-webkit-text-stroke:0.12px #111">Food size</div>
<div class="t" style="left:37.21px;top:611.15px;font-size:15.2px;line-height:15.2px;letter-spacing:1.257px;color:#111;-webkit-text-stroke:0.12px #111">reference</div>
<div class="t" style="left:319.78px;top:602.05px;font-size:15.2px;line-height:15.2px;letter-spacing:1.320px;color:#111;-webkit-text-stroke:0.12px #111">Max.capacity</div>
<div class="t" style="left:180.75px;top:593.90px;font-size:15.6px;line-height:15.6px;letter-spacing:1.377px;color:#111;-webkit-text-stroke:0.12px #111">Rice/flour/</div>
<div class="t" style="left:165.43px;top:609.40px;font-size:15.6px;line-height:15.6px;letter-spacing:1.563px;color:#111;-webkit-text-stroke:0.12px #111">sugar/oatmeal</div>
<div class="t" style="left:193.08px;top:639.40px;font-size:14.0px;line-height:14.0px;letter-spacing:1.357px;color:#333;">Powder/</div>
<div class="t" style="left:183.57px;top:655.30px;font-size:14.0px;line-height:14.0px;letter-spacing:0.684px;color:#333;">Small Piece</div>
<div class="t" style="left:354.88px;top:641.05px;font-size:25.5px;line-height:25.5px;letter-spacing:0.000px;color:#111;">5</div>
<div class="t" style="left:368.81px;top:649.50px;font-size:15.2px;line-height:15.2px;letter-spacing:0.632px;color:#333;">lbs</div>
<div class="t" style="left:65.30px;top:648.20px;font-size:12.6px;line-height:12.6px;letter-spacing:0.818px;color:#1a1a1a;-webkit-text-stroke:0.2px #1a1a1a">0.07in</div>
</body></html>
